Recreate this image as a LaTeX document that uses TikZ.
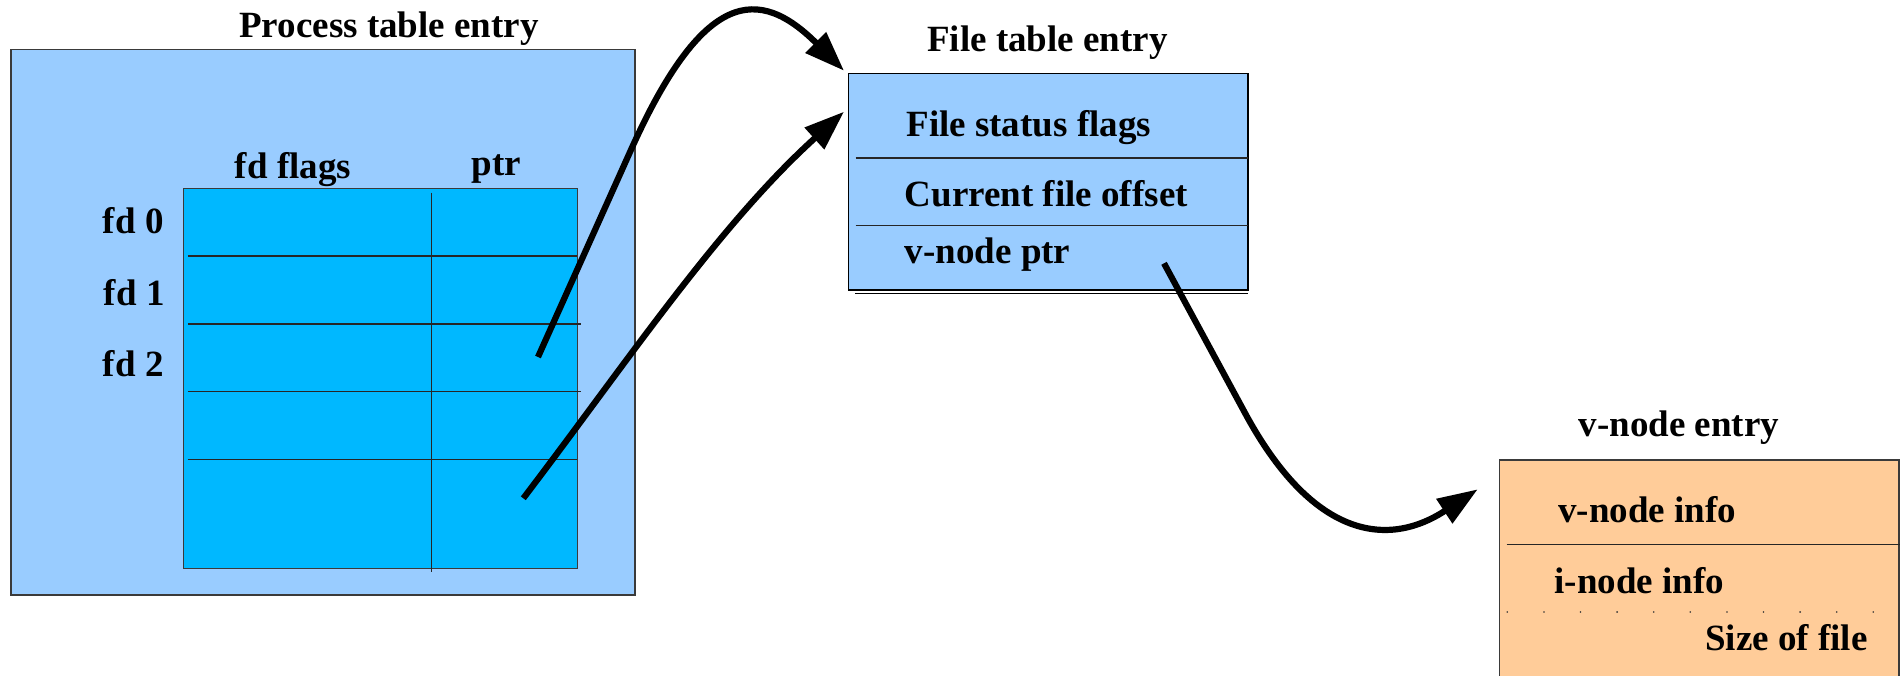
\documentclass[tikz,border=0pt]{standalone}
\usepackage{fontspec}
\setmainfont{Liberation Serif}
\usetikzlibrary{arrows.meta}
\definecolor{lightblue}{HTML}{99CCFF}
\definecolor{skyfill}{HTML}{00B8FF}
\definecolor{peach}{HTML}{FFCC99}
\definecolor{edgegray}{HTML}{3A3A3A}
\begin{document}
\begin{tikzpicture}[x=0.5pt,y=-0.5pt,
  lbl/.style={inner sep=0pt, font=\fontsize{18.5pt}{22pt}\selectfont\bfseries},
  outerbox/.style={fill=lightblue, draw=edgegray, line width=0.6pt},
  fdbox/.style={fill=skyfill, draw=edgegray, line width=0.6pt},
  vbox/.style={fill=peach, draw=edgegray, line width=0.6pt},
  rowline/.style={draw=black!85, line width=0.55pt},
  conn/.style={line width=3.1pt, -{Triangle[length=20pt,width=14pt]}}]
\useasboundingbox (0,0) rectangle (1900,675);
\clip (0,0) rectangle (1900,675);

% ---------- Process table entry ----------
\path[outerbox] (11,49.5) rectangle (635,595);
\path[fdbox] (183.7,188.3) rectangle (577.3,568.3);
\draw[rowline] (187.8,256) -- (577.3,256);
\draw[rowline] (187.8,324) -- (580.7,324);
\draw[rowline] (187.8,391.7) -- (580.7,391.7);
\draw[rowline] (187.8,459.5) -- (577.3,459.5);
\draw[rowline] (431.6,192.7) -- (431.6,571.7);

\node[lbl, anchor=base] (ptitle) at (389,37) {Process table entry};
\node[lbl, anchor=base] (hflags) at (293,178) {fd flags};
\node[lbl, anchor=base] (hptr) at (496.5,175.5) {ptr};
\node[lbl, anchor=base east] (fd0) at (164,233) {fd 0};
\node[lbl, anchor=base east] (fd1) at (165,305) {fd 1};
\node[lbl, anchor=base east] (fd2) at (164,376) {fd 2};

% ---------- File table entry ----------
\path[outerbox, draw=black] (848.5,73.3) rectangle (1248,290);
\draw[rowline] (855.5,158) -- (1248,158);
\draw[rowline] (855.5,225.7) -- (1248,225.7);
\draw[black, line width=0.6pt] (855,293.5) -- (1248,293.5);

\node[lbl, anchor=base] (ftitle) at (1047.5,51.7) {File table entry};
\node[lbl, anchor=base west] (fstat) at (906,136) {File status flags};
\node[lbl, anchor=base west] (foff) at (904.5,206) {Current file offset};
\node[lbl, anchor=base west] (fvptr) at (904.5,263) {v-node ptr};

% ---------- v-node entry ----------
\path[vbox] (1499.5,460) rectangle (1899,700);
\draw[rowline] (1506.6,544.7) -- (1900,544.7);
\foreach \i in {0,...,10}
  \fill[black!80] (1507.3+36.6*\i,612) circle (0.45pt);

\node[lbl, anchor=base] (vtitle) at (1679,436.7) {v-node entry};
\node[lbl, anchor=base west] (vinfo) at (1558,522.7) {v-node info};
\node[lbl, anchor=base west] (iinfo) at (1554,593) {i-node info};
\node[lbl, anchor=base east] (fsize) at (1868,650.7) {Size of file};

% ---------- connectors ----------
\coordinate (ptrA) at (538,357);
\coordinate (bendA) at (630,152);
\coordinate (ftA) at (844,70.7);
\coordinate (ptrB) at (523.3,498.3);
\coordinate (ftB) at (844,111.7);
\coordinate (vptr) at (1164,263.3);
\coordinate (bendC) at (1245,413);
\coordinate (vent) at (1477.7,489.3);

\draw[conn] (ptrA) -- (bendA) .. controls (703.4,-12.3) and (759.2,-13.8) .. (ftA);
\draw[conn] (ptrB) .. controls (626.3,363.2) and (717.9,225.9) .. (ftB);
\draw[conn] (vptr) -- (bendC) .. controls (1311.5,536.2) and (1386,549.5) .. (vent);
\end{tikzpicture}
\end{document}
